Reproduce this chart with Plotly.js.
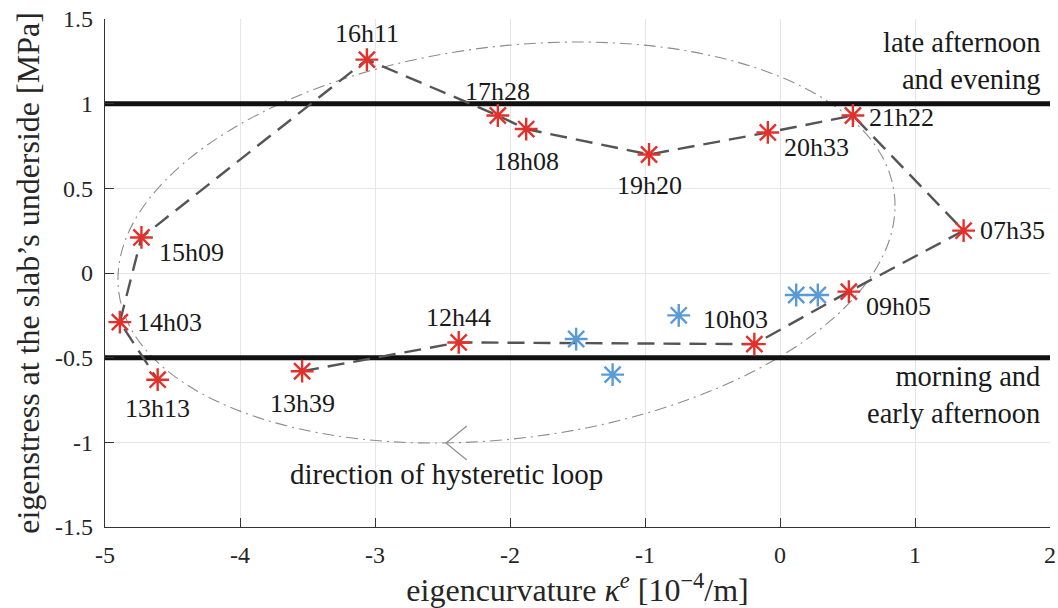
<!DOCTYPE html>
<html>
<head>
<meta charset="utf-8">
<script src="https://cdn.plot.ly/plotly-3.0.1.min.js"></script>
<style>
  html, body { margin: 0; padding: 0; background: #fff; }
  #chart { width: 1058px; height: 608px; }
</style>
</head>
<body>
<div id="chart"></div>
<script>
// Measured stations along the daily cycle (red, labelled, joined by the dashed path)
const timeLabels = ['13h39', '12h44', '10h03', '09h05', '07h35', '21h22', '20h33',
                    '19h20', '18h08', '17h28', '16h11', '15h09', '14h03', '13h13'];
const curvature  = [-3.54, -2.38, -0.19, 0.51, 1.36, 0.54, -0.09,
                    -0.97, -1.88, -2.09, -3.06, -4.73, -4.89, -4.61];
const stress     = [-0.58, -0.41, -0.42, -0.11, 0.25, 0.93, 0.83,
                    0.70, 0.85, 0.93, 1.26, 0.21, -0.29, -0.63];

// Additional readings (blue, unlabelled)
const extraCurvature = [-1.51, -1.24, -0.75, 0.12, 0.28];
const extraStress    = [-0.39, -0.60, -0.25, -0.13, -0.13];

// Regime boundaries
const upperLevel = 1;
const lowerLevel = -0.5;

// Axis ticks
const xTickVals = [-5, -4, -3, -2, -1, 0, 1, 2];
const xTickText = ['-5', '-4', '-3', '-2', '-1', '0', '1', '2'];
const yTickVals = [-1.5, -1, -0.5, 0, 0.5, 1, 1.5];
const yTickText = ['-1.5', '-1', '-0.5', '0', '0.5', '1', '1.5'];

// Where each time label sits relative to its marker (pixels)
const labelPlacement = {
  '16h11': {xa: 'center', dx: 0,   dy: 26},
  '17h28': {xa: 'center', dx: 0,   dy: 24},
  '18h08': {xa: 'center', dx: 0,   dy: -32},
  '19h20': {xa: 'center', dx: 0,   dy: -31},
  '20h33': {xa: 'left',   dx: 14,  dy: -15},
  '21h22': {xa: 'left',   dx: 14,  dy: -2},
  '07h35': {xa: 'left',   dx: 14,  dy: 0},
  '09h05': {xa: 'left',   dx: 15,  dy: -15},
  '10h03': {xa: 'left',   dx: -53, dy: 25},
  '12h44': {xa: 'center', dx: 0,   dy: 25},
  '13h39': {xa: 'center', dx: 0,   dy: -32},
  '13h13': {xa: 'center', dx: 0,   dy: -29},
  '14h03': {xa: 'left',   dx: 15,  dy: 0},
  '15h09': {xa: 'left',   dx: 16,  dy: -15}
};

const serif = "'Liberation Serif', 'DejaVu Serif', serif";
const textColor = '#262626';
const redStar = '#e3302a';
const blueStar = '#5b9bd5';

// Tilted guide ellipse described by its centre and two conjugate semi-diameters
const loopCentre = [-2.026, 0.180];
const loopU = [2.878, 0.2167];
const loopV = [0, 1.164];

function ellipsePath(c, u, v) {
  const k = 0.5523;
  const p = (a, b, s, t) => [c[0] + s * a[0] + t * b[0], c[1] + s * a[1] + t * b[1]];
  const f = q => q[0].toFixed(4) + ',' + q[1].toFixed(4);
  const P0 = p(u, v, 1, 0), P1 = p(u, v, 0, 1), P2 = p(u, v, -1, 0), P3 = p(u, v, 0, -1);
  return 'M' + f(P0) +
    ' C' + f(p(u, v, 1, k)) + ' ' + f(p(u, v, k, 1)) + ' ' + f(P1) +
    ' C' + f(p(u, v, -k, 1)) + ' ' + f(p(u, v, -1, k)) + ' ' + f(P2) +
    ' C' + f(p(u, v, -1, -k)) + ' ' + f(p(u, v, -k, -1)) + ' ' + f(P3) +
    ' C' + f(p(u, v, k, -1)) + ' ' + f(p(u, v, 1, -k)) + ' ' + f(P0) + ' Z';
}

const traces = [
  {
    x: curvature, y: stress, type: 'scatter', mode: 'lines',
    line: {color: '#555555', width: 2.4, dash: '17px,9px'},
    hoverinfo: 'skip', showlegend: false
  },
  {
    x: extraCurvature, y: extraStress, type: 'scatter', mode: 'markers',
    marker: {symbol: 'asterisk-open', size: 19, color: blueStar,
             line: {color: blueStar, width: 2.4}},
    showlegend: false
  },
  {
    x: curvature, y: stress, type: 'scatter', mode: 'markers',
    marker: {symbol: 'asterisk-open', size: 19, color: redStar,
             line: {color: redStar, width: 2.4}},
    text: timeLabels, showlegend: false
  }
];

const annotations = timeLabels.map((t, i) => {
  const pl = labelPlacement[t];
  return {
    x: curvature[i], y: stress[i], xref: 'x', yref: 'y', text: t, showarrow: false,
    xanchor: pl.xa, yanchor: 'middle', xshift: pl.dx, yshift: pl.dy,
    font: {family: serif, size: 26, color: '#1a1a1a'}
  };
});

annotations.push(
  {x: 0.9915, xref: 'paper', y: 1.25, yref: 'y', text: 'late afternoon<br>and evening',
   showarrow: false, xanchor: 'right', yanchor: 'middle', align: 'right',
   font: {family: serif, size: 28.5, color: '#1a1a1a'}},
  {x: 0.9915, xref: 'paper', y: -0.72, yref: 'y', text: 'morning and<br>early afternoon',
   showarrow: false, xanchor: 'right', yanchor: 'middle', align: 'right',
   font: {family: serif, size: 28.5, color: '#1a1a1a'}},
  {x: -2.467, xref: 'x', y: -1.187, yref: 'y', text: 'direction of hysteretic loop',
   showarrow: false, xanchor: 'center', yanchor: 'middle',
   font: {family: serif, size: 29, color: '#1a1a1a'}}
);

const shapes = [
  {type: 'path', xref: 'x', yref: 'y', path: ellipsePath(loopCentre, loopU, loopV),
   line: {color: '#8c8c8c', width: 1.1, dash: '12px,5px,2px,5px'}, layer: 'between'},
  {type: 'path', xref: 'x', yref: 'y',
   path: 'M-2.32,-0.904 L-2.474,-1.004 L-2.32,-1.104',
   line: {color: '#8c8c8c', width: 1.2}, layer: 'between'},
  {type: 'line', xref: 'x', yref: 'y', x0: -5, x1: 2, y0: upperLevel, y1: upperLevel,
   line: {color: '#111111', width: 5}, layer: 'between'},
  {type: 'line', xref: 'x', yref: 'y', x0: -5, x1: 2, y0: lowerLevel, y1: lowerLevel,
   line: {color: '#111111', width: 5}, layer: 'between'}
];

const layout = {
  width: 1058, height: 608,
  margin: {l: 105, r: 8, t: 19, b: 81},
  paper_bgcolor: '#ffffff', plot_bgcolor: '#ffffff',
  font: {family: serif, color: textColor},
  xaxis: {
    range: [-5, 2], tickvals: xTickVals, ticktext: xTickText,
    ticks: 'inside', ticklen: 9, tickcolor: '#333333', tickwidth: 1,
    showline: true, linecolor: '#333333', linewidth: 1.2, mirror: false,
    showgrid: true, gridcolor: '#e6e6e6', gridwidth: 1, zeroline: false,
    ticklabelstandoff: 6,
    tickfont: {family: serif, size: 24, color: textColor},
    title: {text: 'eigencurvature <i>κ</i><sup><i>e</i></sup> [10<sup>−4</sup>/m]',
            font: {family: serif, size: 32, color: textColor}, standoff: 3}
  },
  yaxis: {
    range: [-1.5, 1.5], tickvals: yTickVals, ticktext: yTickText,
    ticks: 'inside', ticklen: 9, tickcolor: '#333333', tickwidth: 1,
    showline: true, linecolor: '#333333', linewidth: 1.2, mirror: false,
    showgrid: true, gridcolor: '#e6e6e6', gridwidth: 1, zeroline: false,
    ticklabelstandoff: 6,
    tickfont: {family: serif, size: 24, color: textColor},
    title: {text: 'eigenstress at the slab’s underside [MPa]',
            font: {family: serif, size: 32, color: textColor}, standoff: 5}
  },
  shapes: shapes,
  annotations: annotations
};

Plotly.newPlot('chart', traces, layout, {displayModeBar: false, staticPlot: true});
</script>
</body>
</html>
